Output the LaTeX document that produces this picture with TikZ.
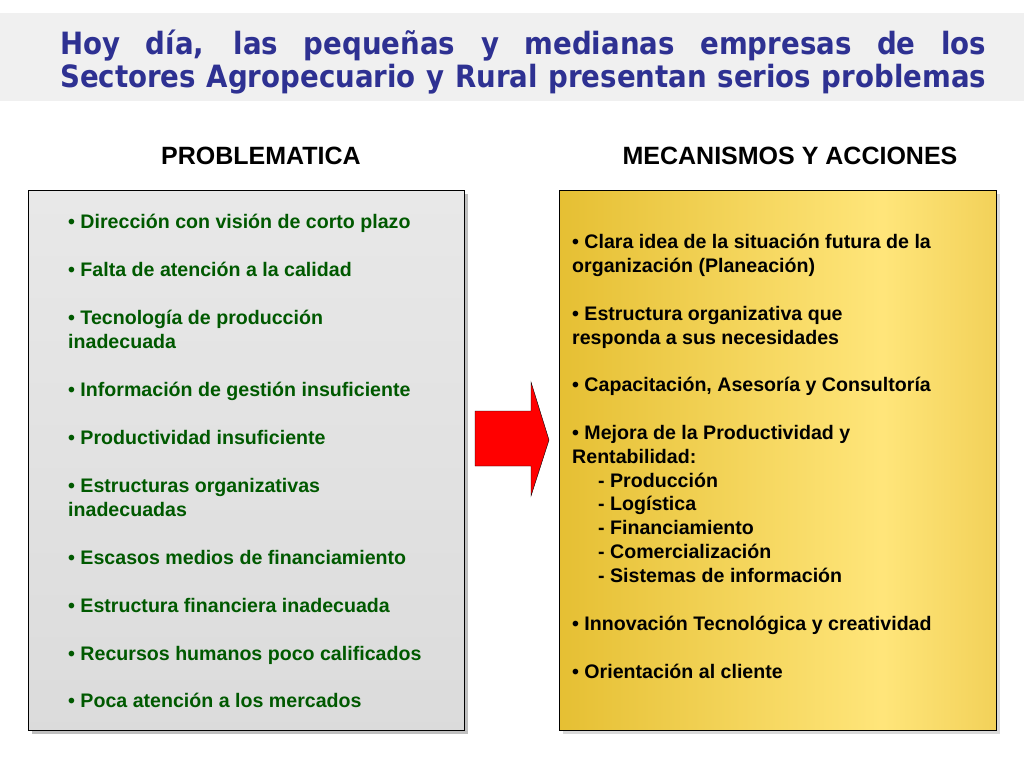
\documentclass[tikz,border=0pt]{standalone}
\usepackage{fontspec}
\setmainfont{Liberation Sans}
\newfontfamily\titlefont{DejaVu Sans Condensed}
\pgfdeclarehorizontalshading{goldsh}{100bp}{rgb(0bp)=(0.80,0.63,0); rgb(25bp)=(0.90,0.75,0.2); rgb(62bp)=(1,0.90,0.48); rgb(75bp)=(0.95,0.82,0.35); rgb(100bp)=(0.80,0.63,0)}
\begin{document}
\begin{tikzpicture}[x=1pt,y=-1pt,
  lt/.style={anchor=base west,inner sep=0pt,font=\fontsize{19.6}{22}\selectfont\bfseries,text=green!35!black},
  rt/.style={anchor=base west,inner sep=0pt,font=\fontsize{19.6}{22}\selectfont\bfseries,text=black},
  hd/.style={inner sep=0pt,font=\fontsize{25}{28}\selectfont\bfseries}]
\definecolor{titleblue}{RGB}{46,49,146}
\useasboundingbox (0,0) rectangle (1024,768);
\fill[white] (0,0) rectangle (1024,768);
\fill[gray!12] (0,13) rectangle (1024,101);
\node[anchor=base west,inner sep=0pt,text=titleblue,align=left,
  font=\titlefont\fontsize{30.7}{33}\selectfont\bfseries] (title) at (60,87)
  {\makebox[926pt][s]{Hoy día, las pequeñas y medianas empresas de los}\\[-0.5pt]\makebox[926pt][s]{Sectores Agropecuario y Rural presentan serios problemas}};
\node[hd] (h1) at (261,156) {PROBLEMATICA};
\node[hd] (h2) at (790,156) {MECANISMOS Y ACCIONES};
\fill[gray!50] (32,194) rectangle (468,734);
\shade[draw=black,top color=gray!18,bottom color=gray!28] (28,190) rectangle (464,730);
\fill[gray!30] (563,194) rectangle (1000,734);
\shade[shading=goldsh,draw=black] (559,190) rectangle (996,730);
\draw[black,fill=red] (475,411) -- (531,411) -- (531,382) -- (549,440) -- (531,496) -- (531,466) -- (475,466) -- cycle;
\node[lt] at (68,228) {• Dirección con visión de corto plazo};
\node[lt] at (68,276) {• Falta de atención a la calidad};
\node[lt] at (68,324) {• Tecnología de producción};
\node[lt] at (68,348) {inadecuada};
\node[lt] at (68,396) {• Información de gestión insuficiente};
\node[lt] at (68,444) {• Productividad insuficiente};
\node[lt] at (68,492) {• Estructuras organizativas};
\node[lt] at (68,516) {inadecuadas};
\node[lt] at (68,564) {• Escasos medios de financiamiento};
\node[lt] at (68,612) {• Estructura financiera inadecuada};
\node[lt] at (68,660) {• Recursos humanos poco calificados};
\node[lt] at (68,707) {• Poca atención a los mercados};
\node[rt] at (572,248) {• Clara idea de la situación futura de la};
\node[rt] at (572,272) {organización (Planeación)};
\node[rt] at (572,320) {• Estructura organizativa que};
\node[rt] at (572,344) {responda a sus necesidades};
\node[rt] at (572,391) {• Capacitación, Asesoría y Consultoría};
\node[rt] at (572,439) {• Mejora de la Productividad y};
\node[rt] at (572,463) {Rentabilidad:};
\node[rt] at (598,487) {- Producción};
\node[rt] at (598,510) {- Logística};
\node[rt] at (598,534) {- Financiamiento};
\node[rt] at (598,558) {- Comercialización};
\node[rt] at (598,582) {- Sistemas de información};
\node[rt] at (572,630) {• Innovación Tecnológica y creatividad};
\node[rt] at (572,678) {• Orientación al cliente};
\end{tikzpicture}
\end{document}
